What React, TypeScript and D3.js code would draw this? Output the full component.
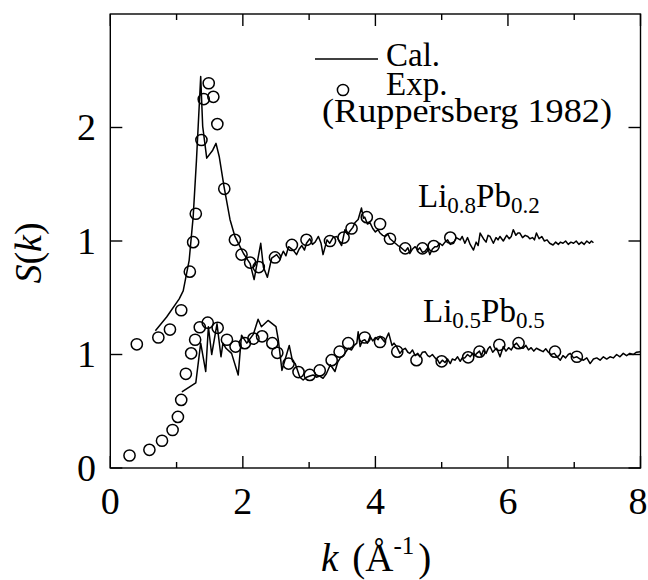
import React from 'react';
import * as d3 from 'd3';

// Li0.8Pb0.2 calculated S(k) (plotted with +1 offset)
const calLi08Pb02: [number, number][] = [
  [0.68, 0.21], [0.85, 0.33], [1.04, 0.49], [1.1, 0.56], [1.19, 0.83], [1.25, 1.21], [1.3, 1.71],
  [1.364, 2.45], [1.394, 2.01], [1.455, 1.73], [1.545, 1.8], [1.595, 1.86], [1.645, 1.74], [1.716, 1.48],
  [1.806, 1.19], [1.88, 1.04], [1.94, 0.97], [2.01, 0.89], [2.11, 0.8], [2.17, 0.66], [2.27, 0.98],
  [2.31, 0.77], [2.37, 0.68], [2.435, 0.85], [2.51, 0.88], [2.56, 0.84], [2.61, 0.91], [2.65, 0.87],
  [2.69, 0.95], [2.76, 0.92], [2.81, 0.88], [2.85, 0.93], [2.89, 0.96], [2.93, 0.92], [2.96, 0.98],
  [3.01, 1.02], [3.05, 0.97], [3.09, 0.99], [3.14, 1.04], [3.18, 0.98], [3.21, 0.88], [3.27, 1.01],
  [3.31, 0.98], [3.36, 1.03], [3.42, 1.04], [3.46, 0.99], [3.49, 0.96], [3.54, 1.1], [3.58, 1.06],
  [3.62, 1.09], [3.66, 1.12], [3.69, 1.16], [3.74, 1.19], [3.79, 1.29], [3.82, 1.2], [3.84, 1.21],
  [3.88, 1.15], [3.92, 1.16], [3.96, 1.11], [4.0, 1.08], [4.04, 1.1], [4.07, 1.07], [4.11, 1.05],
  [4.15, 1.04], [4.19, 1.06], [4.22, 1.02], [4.26, 1.0], [4.3, 0.98], [4.34, 0.96], [4.37, 0.95],
  [4.41, 0.93], [4.45, 0.91], [4.49, 0.94], [4.52, 0.89], [4.56, 0.93], [4.6, 0.95], [4.64, 0.92],
  [4.67, 0.94], [4.71, 0.9], [4.75, 0.91], [4.79, 0.94], [4.82, 0.88], [4.86, 0.93], [4.9, 0.95],
  [4.93, 0.95], [4.97, 0.98], [5.01, 0.96], [5.05, 0.99], [5.09, 1.01], [5.13, 0.97], [5.18, 0.98],
  [5.22, 1.03], [5.28, 1.01], [5.31, 1.04], [5.35, 0.98], [5.39, 1.03], [5.43, 0.97], [5.48, 0.92],
  [5.52, 0.99], [5.55, 0.96], [5.58, 1.07], [5.63, 1.02], [5.67, 0.99], [5.7, 1.05], [5.73, 1.04],
  [5.78, 0.98], [5.82, 1.03], [5.85, 1.01], [5.88, 1.04], [5.93, 1.0], [5.98, 1.05], [6.02, 1.02],
  [6.05, 1.04], [6.08, 1.1], [6.12, 1.05], [6.15, 1.07], [6.18, 1.07], [6.22, 1.03], [6.26, 1.05],
  [6.3, 1.04], [6.33, 1.02], [6.37, 1.03], [6.4, 1.01], [6.43, 1.07], [6.47, 1.02], [6.51, 1.04],
  [6.55, 1.0], [6.59, 1.01], [6.63, 0.98], [6.68, 0.965], [6.72, 0.99], [6.76, 0.97], [6.79, 0.99],
  [6.83, 0.98], [6.87, 1.0], [6.91, 0.97], [6.95, 0.99], [6.99, 0.98], [7.03, 1.0], [7.07, 0.97],
  [7.11, 0.99], [7.15, 0.97], [7.19, 1.0], [7.23, 0.98], [7.26, 1.0], [7.29, 0.985],
];

// Li0.8Pb0.2 experimental (Ruppersberg 1982)
const expLi08Pb02: [number, number][] = [
  [0.4, 0.09], [0.725, 0.15], [0.9, 0.22], [1.07, 0.39], [1.2, 0.73], [1.25, 0.99], [1.29, 1.24],
  [1.375, 1.89], [1.41, 2.25], [1.485, 2.39], [1.555, 2.27], [1.615, 2.03], [1.72, 1.46], [1.88, 1.01],
  [1.98, 0.88], [2.11, 0.81], [2.24, 0.77], [2.485, 0.855], [2.74, 0.965], [2.96, 1.01], [3.315, 1.0],
  [3.52, 1.03], [3.64, 1.11], [3.87, 1.21], [4.07, 1.15], [4.22, 1.02], [4.45, 0.935], [4.71, 0.935],
  [4.88, 0.955], [5.13, 1.03],
];

// Li0.5Pb0.5 calculated S(k)
const calLi05Pb05: [number, number][] = [
  [1.08, 0.67], [1.29, 0.75], [1.364, 1.1], [1.44, 0.85], [1.48, 1.245], [1.53, 1.0], [1.61, 1.27],
  [1.67, 0.98], [1.7, 1.1], [1.745, 1.055], [1.83, 1.01], [1.93, 0.82], [1.98, 1.17], [2.06, 1.1],
  [2.11, 1.14], [2.16, 1.18], [2.23, 1.31], [2.28, 1.245], [2.38, 1.3], [2.5, 1.245], [2.535, 1.13],
  [2.59, 0.86], [2.64, 0.96], [2.7, 1.08], [2.75, 0.94], [2.79, 0.92], [2.86, 0.8], [2.91, 0.775],
  [2.96, 0.8], [3.01, 0.81], [3.06, 0.82], [3.11, 0.8], [3.16, 0.81], [3.21, 0.79], [3.26, 0.83],
  [3.32, 0.91], [3.39, 0.85], [3.43, 0.93], [3.47, 0.97], [3.52, 0.99], [3.55, 1.02], [3.59, 1.055],
  [3.64, 1.04], [3.68, 1.08], [3.72, 1.1], [3.74, 1.2], [3.77, 1.07], [3.8, 1.12], [3.84, 1.13],
  [3.88, 1.1], [3.92, 1.16], [3.96, 1.12], [4.0, 1.15], [4.04, 1.13], [4.07, 1.16], [4.14, 1.11],
  [4.2, 1.19], [4.25, 1.08], [4.28, 1.1], [4.32, 1.07], [4.37, 1.01], [4.41, 1.04], [4.45, 1.055],
  [4.49, 1.02], [4.52, 1.01], [4.56, 1.04], [4.6, 0.99], [4.64, 1.01], [4.67, 0.98], [4.71, 1.02],
  [4.75, 1.025], [4.79, 0.99], [4.82, 0.98], [4.86, 1.0], [4.9, 0.97], [4.94, 0.95], [4.97, 0.92],
  [5.01, 0.95], [5.05, 0.93], [5.09, 0.96], [5.13, 0.92], [5.16, 0.96], [5.2, 0.95], [5.24, 0.98],
  [5.28, 0.94], [5.31, 0.97], [5.35, 0.97], [5.39, 1.0], [5.43, 0.98], [5.47, 1.01], [5.5, 0.99],
  [5.53, 1.01], [5.57, 1.03], [5.6, 0.99], [5.63, 1.04], [5.67, 1.01], [5.7, 1.05], [5.73, 1.07],
  [5.77, 1.02], [5.8, 1.04], [5.83, 1.055], [5.88, 0.98], [5.93, 1.07], [5.97, 1.03], [6.01, 1.06],
  [6.05, 1.04], [6.09, 1.08], [6.13, 1.1], [6.18, 1.06], [6.23, 1.055], [6.27, 1.08], [6.31, 1.04],
  [6.35, 1.06], [6.39, 1.03], [6.43, 1.055], [6.48, 1.04], [6.53, 1.025], [6.57, 1.05], [6.61, 1.02],
  [6.65, 1.0], [6.7, 1.01], [6.74, 0.98], [6.79, 0.95], [6.83, 0.99], [6.87, 0.97], [6.91, 1.0],
  [6.94, 1.01], [6.99, 0.97], [7.04, 0.98], [7.09, 0.96], [7.14, 0.95], [7.19, 0.97], [7.24, 0.92],
  [7.29, 0.96], [7.34, 0.97], [7.39, 0.95], [7.44, 0.98], [7.49, 0.96], [7.54, 0.98], [7.59, 0.97],
  [7.64, 1.0], [7.69, 0.98], [7.74, 1.01], [7.79, 0.99], [7.84, 1.01], [7.89, 1.0], [7.94, 1.02],
  [8.0, 1.025],
];

// Li0.5Pb0.5 experimental
const expLi05Pb05: [number, number][] = [
  [0.29, 0.11], [0.59, 0.16], [0.78, 0.24], [0.94, 0.335], [1.02, 0.45], [1.07, 0.6], [1.14, 0.83],
  [1.22, 1.01], [1.28, 1.13], [1.35, 1.24], [1.47, 1.28], [1.62, 1.235], [1.76, 1.13], [1.89, 1.07],
  [2.03, 1.1], [2.16, 1.14], [2.29, 1.16], [2.445, 1.1], [2.52, 1.015], [2.69, 0.92], [2.84, 0.845],
  [3.01, 0.82], [3.16, 0.86], [3.34, 0.95], [3.46, 1.025], [3.59, 1.1], [3.84, 1.15], [4.07, 1.11],
  [4.33, 1.025], [4.62, 0.95], [5.0, 0.94], [5.4, 0.975], [5.57, 1.025], [5.87, 1.085], [6.16, 1.1],
  [6.71, 1.025], [7.04, 0.98],
];

const upperOffset = 1;
const xMajorTicks = [0, 2, 4, 6, 8];
const xMinorTicks = [1, 3, 5, 7];
const yTickValues = [0, 1, 2, 3];
const yTickLabels = ['0', '1', '1', '2'];

const W = 648;
const H = 580;
const L = 110.3;
const R = 640.5;
const T = 14;
const B = 468;
const FONT = "'Liberation Serif', 'Times New Roman', serif";

export default function App() {
  const x = d3.scaleLinear().domain([0, 8]).range([L, R]);
  const y = d3.scaleLinear().domain([0, 4]).range([B, T]);
  const lineUpper = d3
    .line<[number, number]>()
    .x((d) => x(d[0]))
    .y((d) => y(d[1] + upperOffset));
  const lineLower = d3
    .line<[number, number]>()
    .x((d) => x(d[0]))
    .y((d) => y(d[1]));

  const major = 12;
  const minor = 6;
  const r = 5.6;

  return (
    <svg
      width={W}
      height={H}
      style={{ position: 'absolute', left: 0, top: 0, background: '#fff' }}
      fontFamily={FONT}
    >
      <rect x={0} y={0} width={W} height={H} fill="#fff" />
      {/* frame */}
      <rect x={L} y={T} width={R - L} height={B - T} fill="none" stroke="#000" strokeWidth={1.4} />
      {/* x ticks */}
      {xMajorTicks.map((t) => (
        <g key={'xm' + t}>
          <line x1={x(t)} x2={x(t)} y1={B} y2={B - major} stroke="#000" strokeWidth={1.4} />
          <line x1={x(t)} x2={x(t)} y1={T} y2={T + major} stroke="#000" strokeWidth={1.4} />
          <text x={Math.min(x(t), W - 10)} y={514} textAnchor="middle" fontSize={38}>
            {t}
          </text>
        </g>
      ))}
      {xMinorTicks.map((t) => (
        <g key={'xn' + t}>
          <line x1={x(t)} x2={x(t)} y1={B} y2={B - minor} stroke="#000" strokeWidth={1.4} />
          <line x1={x(t)} x2={x(t)} y1={T} y2={T + minor} stroke="#000" strokeWidth={1.4} />
        </g>
      ))}
      {/* y ticks */}
      {yTickValues.map((t, i) => (
        <g key={'y' + t}>
          <line x1={L} x2={L + major} y1={y(t)} y2={y(t)} stroke="#000" strokeWidth={1.4} />
          <line x1={R} x2={R - major} y1={y(t)} y2={y(t)} stroke="#000" strokeWidth={1.4} />
          <text x={96} y={y(t) + 12.5} textAnchor="end" fontSize={38}>
            {yTickLabels[i]}
          </text>
        </g>
      ))}

      {/* curves */}
      <path d={lineUpper(calLi08Pb02) || ''} fill="none" stroke="#000" strokeWidth={1.5} strokeLinejoin="round" />
      <path d={lineLower(calLi05Pb05) || ''} fill="none" stroke="#000" strokeWidth={1.5} strokeLinejoin="round" />
      {expLi08Pb02.map((d, i) => (
        <circle key={'eu' + i} cx={x(d[0])} cy={y(d[1] + upperOffset)} r={r} fill="none" stroke="#000" strokeWidth={1.5} />
      ))}
      {expLi05Pb05.map((d, i) => (
        <circle key={'el' + i} cx={x(d[0])} cy={y(d[1])} r={r} fill="none" stroke="#000" strokeWidth={1.5} />
      ))}

      {/* legend */}
      <line x1={315} x2={378} y1={59} y2={59} stroke="#000" strokeWidth={1.5} />
      <text x={386} y={66} fontSize={33}>Cal.</text>
      <circle cx={343} cy={90} r={r} fill="none" stroke="#000" strokeWidth={1.5} />
      <text x={386} y={95} fontSize={33}>Exp.</text>
      <text x={322} y={122} fontSize={33} textLength={290} lengthAdjust="spacingAndGlyphs">
        (Ruppersberg 1982)
      </text>

      {/* compound labels */}
      <text x={418} y={207} fontSize={33}>
        Li<tspan fontSize={23} dy={6}>0.8</tspan>
        <tspan dy={-6}>Pb</tspan>
        <tspan fontSize={23} dy={6}>0.2</tspan>
      </text>
      <text x={423} y={322} fontSize={33}>
        Li<tspan fontSize={23} dy={6}>0.5</tspan>
        <tspan dy={-6}>Pb</tspan>
        <tspan fontSize={23} dy={6}>0.5</tspan>
      </text>

      {/* axis titles */}
      <text x={321} y={571} fontSize={39}>
        <tspan fontStyle="italic">k</tspan>
        <tspan dx={14}>(Å</tspan>
        <tspan fontSize={25} dy={-17}>-1</tspan>
        <tspan dy={17} dx={4}>)</tspan>
      </text>
      <text transform="translate(41,253) rotate(-90)" textAnchor="middle" fontSize={38}>
        <tspan fontStyle="italic">S</tspan>(<tspan fontStyle="italic">k</tspan>)
      </text>
    </svg>
  );
}
